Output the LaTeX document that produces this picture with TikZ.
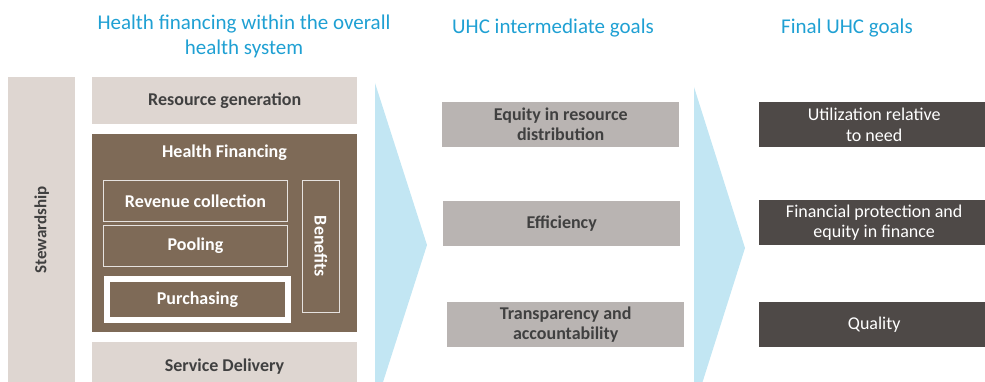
\documentclass[tikz,border=0pt]{standalone}
\usepackage{fontspec}
\setmainfont{Carlito}
\usetikzlibrary{positioning}

\definecolor{beige}{HTML}{DED6D1}
\definecolor{finbrown}{HTML}{7E6A57}
\definecolor{midgrey}{HTML}{B9B4B2}
\definecolor{darkbox}{HTML}{4E4947}
\definecolor{chevron}{HTML}{C2E6F3}
\definecolor{headblue}{HTML}{1FA0D3}
\definecolor{txtgrey}{HTML}{404040}
\definecolor{thinline}{HTML}{E6E2DF}

\tikzset{
	box/.style={anchor=north west, inner sep=0pt, align=center, font=\fontsize{18}{20}\selectfont\bfseries},
	pane/.style={box, fill=beige, text=txtgrey},
	finpart/.style={box, fill=finbrown, draw=thinline, line width=1pt, text=white},
	midgoal/.style={box, fill=midgrey, text=txtgrey, minimum width=237pt, minimum height=45pt},
	endgoal/.style={box, fill=darkbox, text=white, font=\fontsize{18}{20.5}\selectfont, minimum width=230pt, minimum height=45pt},
	heading/.style={align=center, text=headblue, font=\fontsize{21}{25}\selectfont}
}

\begin{document}
\begin{tikzpicture}[x=1pt,y=-1pt]
		\useasboundingbox (0,0) rectangle (985,382);
		\begin{scope}
			\clip (0,0) rectangle (985,382);
			\fill[chevron] (375,83) -- (427,245) -- (375,407) -- cycle;
			\fill[chevron] (694,87) -- (745,248) -- (694,409) -- cycle;
		\end{scope}
		\node[heading] (sysHead) at (244,36) {Health financing within the overall\\health system};
		\node[heading] (midHead) at (553,28) {UHC intermediate goals};
		\node[heading] (endHead) at (847,28) {Final UHC goals};
		\node[pane, minimum width=67pt, minimum height=305pt] (stewardship) at (8,77) {};
		\node[box, anchor=center, text=txtgrey, rotate=90, font=\fontsize{17}{20}\selectfont\bfseries] at (stewardship.center) {Stewardship};
		\node[pane, minimum width=265pt, minimum height=47pt] (resgen) at (92,77) {Resource generation};
		\node[box, fill=finbrown, minimum width=265pt, minimum height=198pt] (hfin) at (92,134) {};
		\node[box, anchor=center, text=white] (hfinLabel) at (224.5,153) {Health Financing};
		\node[finpart, minimum width=184pt, minimum height=41pt] (revcoll) at (103,180) {Revenue collection};
		\node[finpart, minimum width=184pt, minimum height=41pt] (pooling) at (103,225) {Pooling};
		\node[finpart, draw=white, line width=6pt, minimum width=181pt, minimum height=41pt] (purch) at (104,276) {Purchasing};
		\node[finpart, minimum width=37pt, minimum height=132pt] (benefits) at (302,180) {};
		\node[box, anchor=center, text=white, rotate=-90] at (benefits.center) {Benefits};
		\node[pane, minimum width=265pt, minimum height=40pt] (servdel) at (92,342) {};
		\node[box, anchor=center, text=txtgrey] at (224.5,367) {Service Delivery};
		\node[midgoal] (equity) at (442,102) {Equity in resource\\distribution};
		\node[midgoal] (efficiency) at (443,201) {Efficiency};
		\node[midgoal] (transp) at (447,302) {Transparency and\\accountability};
		\node[endgoal] (utiliz) at (759,102) {Utilization relative\\to need};
		\node[endgoal] (finprot) at (759,200) {Financial protection and\\equity in finance};
		\node[endgoal] (quality) at (759,302) {Quality};
	\end{tikzpicture}
\end{document}
